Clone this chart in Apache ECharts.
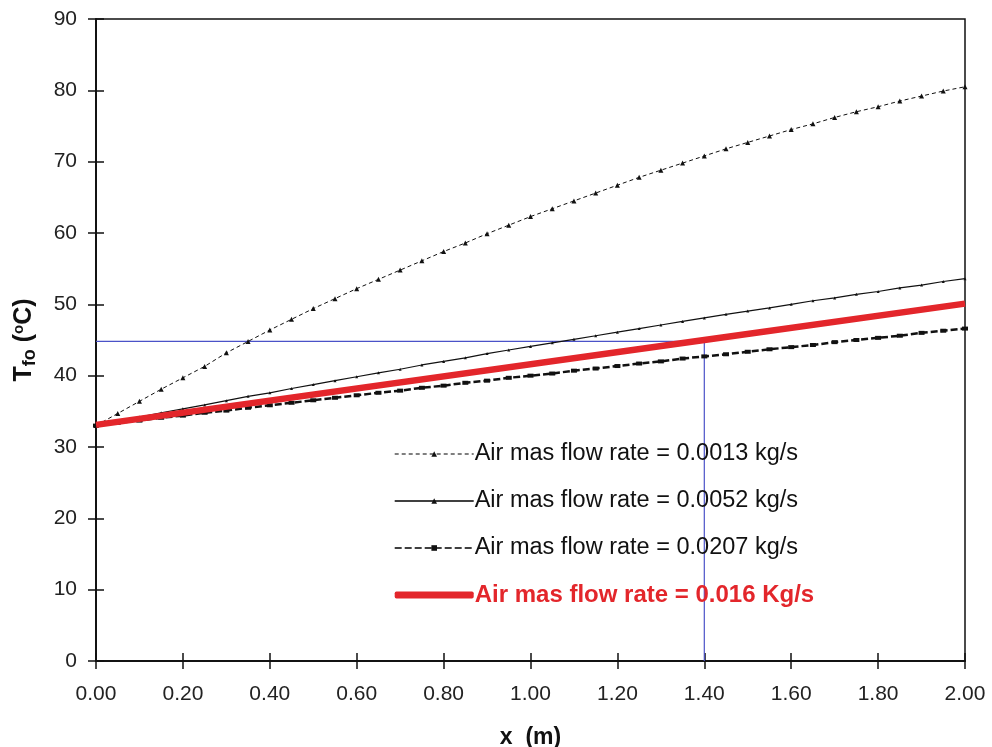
<!DOCTYPE html>
<html>
<head>
<meta charset="utf-8">
<script src="https://cdn.jsdelivr.net/npm/echarts@6/dist/echarts.min.js"></script>
<style>html,body{margin:0;padding:0;background:#fff}#c{width:992px;height:747px}</style>
</head>
<body>
<div id="c"></div>
<script>
var xs = [0,0.05,0.1,0.15,0.2,0.25,0.3,0.35,0.4,0.45,0.5,0.55,0.6,0.65,0.7,0.75,0.8,0.85,0.9,0.95,1.0,
          1.05,1.1,1.15,1.2,1.25,1.3,1.35,1.4,1.45,1.5,1.55,1.6,1.65,1.7,1.75,1.8,1.85,1.9,1.95,2.0];
var s0013 = [33.0,34.7,36.4,38.1,39.7,41.3,43.2,44.8,46.4,47.9,49.4,50.8,52.2,53.5,54.8,56.1,57.4,58.6,59.9,61.1,62.3,
             63.4,64.5,65.6,66.7,67.8,68.8,69.8,70.8,71.8,72.7,73.6,74.5,75.3,76.2,77.0,77.7,78.5,79.2,79.9,80.5];
var s0052 = [33.0,33.6,34.2,34.8,35.35,35.9,36.5,37.1,37.6,38.2,38.75,39.3,39.85,40.4,40.9,41.5,42.0,42.5,43.1,43.6,44.1,
             44.6,45.1,45.6,46.1,46.6,47.1,47.6,48.1,48.6,49.05,49.5,50.0,50.5,50.9,51.4,51.8,52.3,52.7,53.2,53.6];
var s0207 = [33.0,33.4,33.7,34.1,34.4,34.8,35.1,35.5,35.85,36.2,36.55,36.9,37.25,37.6,37.9,38.3,38.6,39.0,39.3,39.7,40.0,
             40.3,40.7,41.0,41.35,41.7,42.0,42.4,42.7,43.0,43.35,43.7,44.0,44.3,44.7,45.0,45.3,45.6,46.0,46.3,46.6];
var redX = [0, 1.4, 2.0];
var s016 = [33.1, 45.0, 50.1];
var guideX = [0, 1.4, 1.4];
var guideY = [44.8, 44.8, 0];
var names = ['Air mas flow rate = 0.0013 kg/s','Air mas flow rate = 0.0052 kg/s','Air mas flow rate = 0.0207 kg/s','Air mas flow rate = 0.016 Kg/s'];
var xTicks = {min:0, max:2, interval:0.2};
var yTicks = {min:0, max:90, interval:10};

function pairs(x, y){ return x.map(function(v,i){ return [v, y[i]]; }); }

var font = "'Liberation Sans', Arial, Helvetica, sans-serif";
var chart = echarts.init(document.getElementById('c'));
var axisBase = {
  axisLine:{show:true, lineStyle:{color:'#111', width:1.5}},
  splitLine:{show:false}
};
chart.setOption({
  animation:false,
  backgroundColor:'#fff',
  grid:{left:96, right:27, top:19, bottom:86, show:true, borderColor:'#111', borderWidth:1.5,
        containLabel:false, outerBoundsMode:'none'},
  legend:{
    orient:'vertical', left:389, top:437, itemWidth:79, itemHeight:7, itemGap:23,
    textStyle:{fontSize:23.5, fontFamily:font, color:'#111', padding:[0,0,0,-4]},
    data:[
      {name:names[0], lineStyle:{width:1.2, color:'#000'}},
      {name:names[1], lineStyle:{width:1.4, color:'#000'}},
      {name:names[2], lineStyle:{width:1.4, color:'#000'}},
      {name:names[3], icon:'roundRect', itemStyle:{color:'#e3262b'},
        textStyle:{color:'#e3262b', fontWeight:'bold', fontSize:24}}
    ]
  },
  xAxis:[
    Object.assign({type:'value', min:xTicks.min, max:xTicks.max, interval:xTicks.interval, position:'bottom',
      name:'x  (m)', nameLocation:'middle', nameGap:65,
      nameTextStyle:{fontSize:23, fontWeight:'bold', fontFamily:font, color:'#111'},
      axisTick:{show:true, inside:false, length:8, lineStyle:{color:'#111', width:1.5}},
      axisLabel:{fontSize:21, fontFamily:font, color:'#222', margin:23, formatter:function(v){return v.toFixed(2);}}
    }, axisBase),
    Object.assign({type:'value', min:xTicks.min, max:xTicks.max, interval:xTicks.interval, position:'bottom', offset:0,
      axisTick:{show:true, inside:true, length:8, lineStyle:{color:'#111', width:1.5}},
      axisLabel:{show:false}
    }, axisBase)
  ],
  yAxis:[
    Object.assign({type:'value', min:yTicks.min, max:yTicks.max, interval:yTicks.interval, position:'left',
      name:'{a|T}{b|fo}{a| (}{c|o}{a|C)}', nameLocation:'middle', nameGap:57, nameRotate:90,
      nameTextStyle:{rich:{
        a:{fontSize:25, fontWeight:'bold', fontFamily:font, color:'#111'},
        b:{fontSize:18, fontWeight:'bold', fontFamily:font, color:'#111', padding:[12,0,0,0]},
        c:{fontSize:15, fontWeight:'bold', fontFamily:font, color:'#111', padding:[0,0,10,0]}
      }},
      axisTick:{show:true, inside:false, length:8, lineStyle:{color:'#111', width:1.5}},
      axisLabel:{fontSize:21, fontFamily:font, color:'#222', margin:19}
    }, axisBase),
    Object.assign({type:'value', min:yTicks.min, max:yTicks.max, interval:yTicks.interval, position:'left', offset:0,
      axisTick:{show:true, inside:true, length:8, lineStyle:{color:'#111', width:1.5}},
      axisLabel:{show:false}
    }, axisBase)
  ],
  series:[
    {name:'guide', type:'line', data:pairs(guideX, guideY), symbol:'none', silent:true,
      lineStyle:{color:'#4a52c8', width:1.2}, z:1},
    {name:names[0], type:'line', data:pairs(xs, s0013), symbol:'triangle', symbolSize:5,
      itemStyle:{color:'#111'}, lineStyle:{color:'#111', width:1, type:[4,3]}, z:3},
    {name:names[1], type:'line', data:pairs(xs, s0052), symbol:'triangle', symbolSize:3,
      itemStyle:{color:'#111'}, lineStyle:{color:'#111', width:1.2, type:'solid'}, z:3},
    {name:names[2], type:'line', data:pairs(xs, s0207), symbol:'rect', symbolSize:[6,4],
      itemStyle:{color:'#111'}, lineStyle:{color:'#111', width:2.5, type:[7,3]}, z:3},
    {name:names[3], type:'line', data:pairs(redX, s016), symbol:'none',
      itemStyle:{color:'#e3262b'}, lineStyle:{color:'#e3262b', width:6.5}, z:4}
  ]
});
</script>
</body>
</html>
